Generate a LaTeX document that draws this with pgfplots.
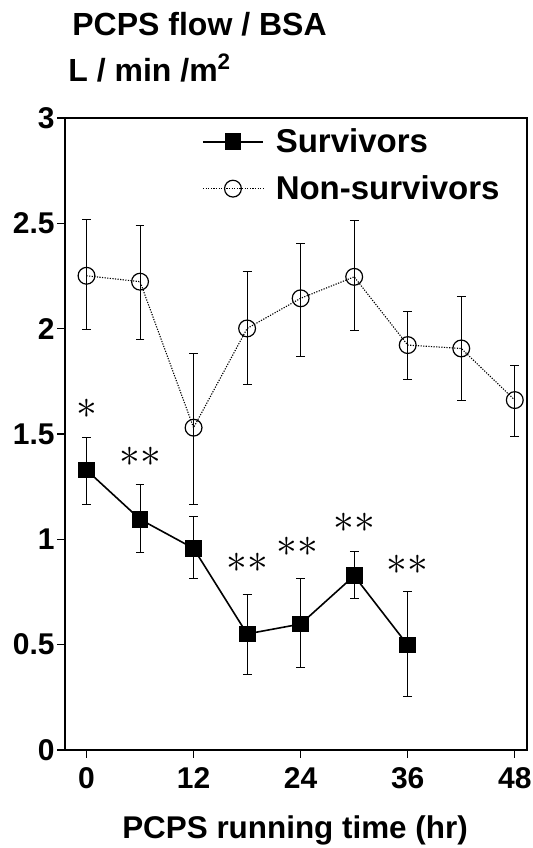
\documentclass[border=0pt]{standalone}
\usepackage{fontspec}
\setmainfont{Liberation Sans}
\usepackage{pgfplots}
\pgfplotsset{compat=1.18}

\begin{document}
\begin{tikzpicture}
\begin{axis}[
  name=ax,
  scale only axis,
  width=231pt, height=316pt,
  xmin=-2.41, xmax=49.37,
  ymin=0, ymax=3,
  xtick={0,12,24,36,48},
  ytick={0,0.5,1,1.5,2,2.5,3},
  yticklabels={0,0.5,1,1.5,2,2.5,3},
  xtick pos=left, ytick pos=left,
  tick align=outside,
  major tick length=4pt,
  tick style={black, line width=0.6pt},
  axis line style={line width=0.6pt},
  /pgf/number format/assume math mode=true,
  ticklabel style={font=\bfseries\fontsize{15}{15}\selectfont},
  xticklabel style={yshift=-1pt},
  yticklabel style={inner xsep=1pt},
  legend style={at={(0.283,0.997)}, anchor=north west, draw=none, fill=none,
    font=\bfseries\fontsize{16.5}{16.5}\selectfont, row sep=6pt},
  legend cell align=left,
  legend image code/.code={%
    \draw[mark repeat=2,mark phase=2,#1] plot coordinates {(0pt,0pt)(15pt,0pt)(30pt,0pt)};
    \path (34pt,0pt);},
]
\coordinate (bl) at (rel axis cs:0,0);
\coordinate (tl) at (rel axis cs:0,1);
\coordinate (tr) at (rel axis cs:1,1);

\addplot[black, line width=0.8pt, mark=square*, mark size=3.8pt,
  error bars/.cd, y dir=both, y explicit,
  error bar style={line width=0.5pt, solid},
  error mark options={line width=0.5pt, mark size=2.2pt, rotate=90}]
table[x=x, y=y, y error plus=ep, y error minus=em] {
x  y     ep    em
0  1.329 0.155 0.166
6  1.095 0.163 0.157
12 0.957 0.150 0.145
18 0.551 0.189 0.192
24 0.598 0.214 0.206
30 0.827 0.117 0.110
36 0.498 0.253 0.245
};
\addlegendentry{Survivors}

\addplot[black, line width=0.55pt, dash pattern=on 0.6pt off 0.7pt, mark=o, mark size=4.2pt,
  mark options={solid, fill=white, line width=0.6pt},
  error bars/.cd, y dir=both, y explicit,
  error bar style={line width=0.5pt, solid},
  error mark options={line width=0.5pt, mark size=2.2pt, rotate=90}]
table[x=x, y=y, y error plus=ep, y error minus=em] {
x  y     ep    em
0  2.251 0.269 0.253
6  2.223 0.265 0.274
12 1.530 0.353 0.364
18 2.001 0.269 0.265
24 2.144 0.261 0.274
30 2.246 0.266 0.257
36 1.922 0.158 0.161
42 1.906 0.245 0.245
48 1.661 0.166 0.171
};
\addlegendentry{Non-survivors}

\node[font=\fontsize{21}{21}\selectfont] at (axis cs:0,1.62) {$\ast$};
\node[font=\fontsize{21}{21}\selectfont] at (axis cs:6,1.39) {$\ast\ast$};
\node[font=\fontsize{21}{21}\selectfont] at (axis cs:18,0.886) {$\ast\ast$};
\node[font=\fontsize{21}{21}\selectfont] at (axis cs:23.6,0.962) {$\ast\ast$};
\node[font=\fontsize{21}{21}\selectfont] at (axis cs:30,1.076) {$\ast\ast$};
\node[font=\fontsize{21}{21}\selectfont] at (axis cs:36,0.878) {$\ast\ast$};
\end{axis}

\node[anchor=base west, font=\bfseries\fontsize{16}{16}\selectfont, inner sep=0pt]
  at ([xshift=3.5pt, yshift=41pt]tl) {PCPS flow / BSA};
\node[anchor=base west, font=\bfseries\fontsize{16}{16}\selectfont, inner sep=0pt]
  at ([xshift=1.5pt, yshift=18pt]tl) {L / min /m\textsuperscript{2}};
\node[anchor=base, font=\bfseries\fontsize{15.7}{15.7}\selectfont, inner sep=0pt]
  at ([xshift=115pt, yshift=-44pt]bl) {PCPS running time (hr)};

\pgfresetboundingbox
\path ([xshift=-32.5pt, yshift=-49pt]bl) rectangle ([xshift=2.5pt, yshift=59pt]tr);
\end{tikzpicture}
\end{document}
